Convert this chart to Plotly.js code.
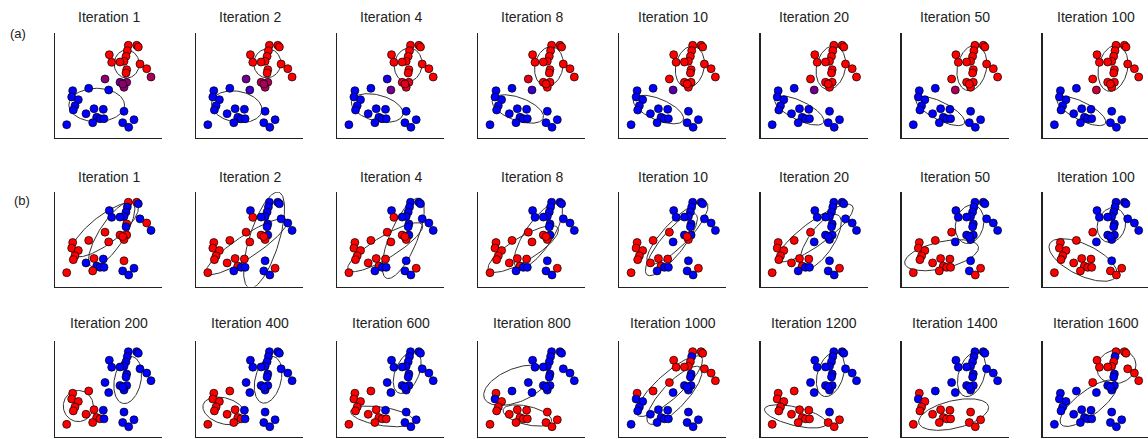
<!DOCTYPE html>
<html><head><meta charset="utf-8">
<script src="https://cdn.plot.ly/plotly-3.0.1.min.js"></script>
<style>html,body{margin:0;padding:0;background:#fff;}#chart{width:1148px;height:439px;}</style>
</head><body><div id="chart"></div>
<script>
// Data points (same data set in every panel)
const pointX = [73.3,81.7,83.3,72.3,54.3,71,69,56.7,65,85,71.7,71,91.7,96,50,65,71.7,69,67.7,17.7,33.7,53.7,16.7,23.3,20,18.3,31,39,48.3,69,41.7,45,49,37.7,11.7,67.7,79,73.7];
const pointY = [92.7,92.7,91,87.3,83.3,81.7,76.7,75.7,76,74,68.3,65,69.3,61,59,55.7,55.7,50.7,54,47.3,49.7,48,41,38.3,32.3,28,24.3,29.3,28.7,26.7,20.7,19.3,19.3,15.3,13.3,15.3,18.3,10.7];

// Panel titles per row
const itersA = [1,2,4,8,10,20,50,100];
const itersB = [1,2,4,8,10,20,50,100];
const itersC = [200,400,600,800,1000,1200,1400,1600];

// Red responsibility per point, one char per point: '0' = blue ... '9' = red
const redShareA = [
  "9999999999999654555" + "0000000000000000000",
  "9999999999999946666" + "0020000000000000000",
  "9999999999999918888" + "0040000000000000000",
  "9999999999999989999" + "0020000000000000000",
  "9999999999999999999" + "0030000000000000000",
  "9999999999999999999" + "0040000000000000000",
  "9999999999999999999" + "0060000000000000000",
  "9999999999999999999" + "0070000000000000000"
];
const redShareB = [
  "9900000000" + "9090999999" + "9999990909" + "00099000",
  "0000000900" + "0000990999" + "9999999990" + "90009090",
  "0000000900" + "0000990999" + "9999999990" + "90009090",
  "0000000000" + "0000990999" + "9999999990" + "90009090",
  "0000000000" + "0000900999" + "9099999990" + "90009090",
  "0000000000" + "0000900009" + "9099999990" + "90009090",
  "0000000000" + "0000900009" + "9099999990" + "99999099",
  "0000000000" + "0000900009" + "9099999990" + "99999999"
];
const redShareC = [
  "0000000000" + "0000000009" + "9099999900" + "99099000",
  "0000000000" + "0000000009" + "9099999900" + "99099000",
  "0000000000" + "0000000009" + "9099999900" + "99999000",
  "0000000000" + "0000000009" + "0009999999" + "99999999",
  "9990999999" + "0099900009" + "9000000000" + "00000000",
  "0000000000" + "0000000009" + "9099999990" + "99999999",
  "0000000000" + "0000000009" + "0009999999" + "99999999",
  "9990999999" + "0099900000" + "0000000000" + "00000000"
];

// Gaussian ellipses per panel: [centerX, centerY, semiMajor, semiMinor, angleDeg]
const ellipsesA = [
  [[71.7,74,14,12.5,90],[41.7,33,27.8,16.7,0]],
  [[71.2,74.7,14.5,13.5,80],[40.6,31.3,25.5,15.5,-10]],
  [[71,73,17,13.8,80],[40,30,26.5,13,-15]],
  [[70.6,71.5,20,14,78],[39.5,29,27,11.5,-20]],
  [[70.5,71,21,14.2,78],[39,28.5,27,10.5,-23]],
  [[70.4,70.3,22,14.4,78],[38.8,27.5,27,9.5,-26]],
  [[70.3,70,23,14.5,78],[38.7,27,27,9,-27]],
  [[70.3,69.7,23.3,14.5,78],[38.7,27,27,9,-27]]
];
const ellipsesB = [
  [[50,62,43,15,42],[56.7,56.5,41.6,13,61]],
  [[68,50,56,15,75],[50.6,42.7,50,12,37]],
  [[66,52,48,14,70],[48,42,45,12,35]],
  [[60,55,42,14,60],[45,40,42,13,35]],
  [[58,58,45,13,50],[52,45,42,12,55]],
  [[55,58,48,13,40],[60,48,35,13,60]],
  [[68,68,22,14,80],[40,33,38,15,15]],
  [[68.7,67,19.7,14,80],[40.3,27.6,38,17,-30]]
];
const ellipsesC = [
  [[23.3,33.3,17,15,90],[72.7,61.7,26,13.3,80]],
  [[28,28,22,14,-20],[72,62,26,13,78]],
  [[45,22,32,10,-10],[70,70,24,12,70]],
  [[38,56,35,18,25],[49,23,25,10,-15]],
  [[50,55,45,13,45],[55,45,40,13,50]],
  [[35,22,32,10,-15],[70,68,25,13,75]],
  [[52,24,36,15,15],[70,68,25,13,75]],
  [[73.7,76.3,20,18,30],[46,36.4,36,13,40.5]]
];

const W = 1148, H = 439;
const rows = [
  {iters: itersA, share: redShareA, ell: ellipsesA, top: 33, bottom: 138, yr: [0,105], titleY: 17},
  {iters: itersB, share: redShareB, ell: ellipsesB, top: 192, bottom: 286.5, yr: [-2.3,104.3], titleY: 177},
  {iters: itersC, share: redShareC, ell: ellipsesC, top: 340.7, bottom: 436.7, yr: [-0.2,104.7], titleY: 323}
];

function colorOf(ch) {
  const p = parseInt(ch, 10) / 9;
  return 'rgb(' + Math.round(255*p) + ',0,' + Math.round(255*(1-p)) + ')';
}
function ellipsePath(e) {
  const [cx, cy, a, b, ang] = e;
  const t = ang * Math.PI / 180, xs = [], ys = [];
  for (let i = 0; i <= 120; i++) {
    const s = 2 * Math.PI * i / 120;
    const u = a * Math.cos(s), v = b * Math.sin(s);
    xs.push(cx + u*Math.cos(t) - v*Math.sin(t));
    ys.push(cy + u*Math.sin(t) + v*Math.cos(t));
  }
  return {xs, ys};
}

const traces = [];
const layout = {
  width: W, height: H, margin: {l:0, r:0, t:0, b:0},
  paper_bgcolor: '#fff', plot_bgcolor: '#fff', showlegend: false,
  font: {family: 'Arial, "Liberation Sans", sans-serif', color: '#222'},
  annotations: []
};
let k = 0;
rows.forEach((row, r) => {
  for (let c = 0; c < 8; c++) {
    k++;
    const xa = 'x' + (k === 1 ? '' : k), ya = 'y' + (k === 1 ? '' : k);
    const left = 55 + 141.1 * c;
    const right = Math.min(left + 107, W);
    const axisBase = {showgrid:false, zeroline:false, showticklabels:false, ticks:'',
      showline:true, linecolor:'#222', linewidth:1.3, mirror:false, fixedrange:true};
    layout['xaxis' + (k === 1 ? '' : k)] = Object.assign({}, axisBase, {
      domain: [left / W, right / W], range: [0, right - left], anchor: ya
    });
    layout['yaxis' + (k === 1 ? '' : k)] = Object.assign({}, axisBase, {
      domain: [1 - row.bottom / H, 1 - row.top / H], range: row.yr, anchor: xa
    });
    row.ell[c].forEach(e => {
      const p = ellipsePath(e);
      traces.push({type:'scatter', mode:'lines', x:p.xs, y:p.ys, xaxis:xa, yaxis:ya,
        line:{color:'#333', width:1}, hoverinfo:'skip'});
    });
    const colors = row.share[c].split('').map(colorOf);
    traces.push({type:'scatter', mode:'markers', x:pointX, y:pointY, xaxis:xa, yaxis:ya,
      marker:{size:8, color:colors, line:{color:'#000', width:0.7}}, cliponaxis:false});
    layout.annotations.push({text: 'Iteration ' + row.iters[c], xref:'paper', yref:'paper',
      x: (55 + 141.1*c + 53.5) / W, y: 1 - row.titleY / H, xanchor:'center', yanchor:'middle',
      showarrow:false, font:{size:14, color:'#222'}});
  }
});
layout.annotations.push({text:'(a)', xref:'paper', yref:'paper', x:18/W, y:1-33/H,
  xanchor:'center', yanchor:'middle', showarrow:false, font:{size:13, color:'#222'}});
layout.annotations.push({text:'(b)', xref:'paper', yref:'paper', x:21.5/W, y:1-200/H,
  xanchor:'center', yanchor:'middle', showarrow:false, font:{size:13, color:'#222'}});

Plotly.newPlot('chart', traces, layout, {staticPlot:true, displayModeBar:false});
</script>
</body></html>
